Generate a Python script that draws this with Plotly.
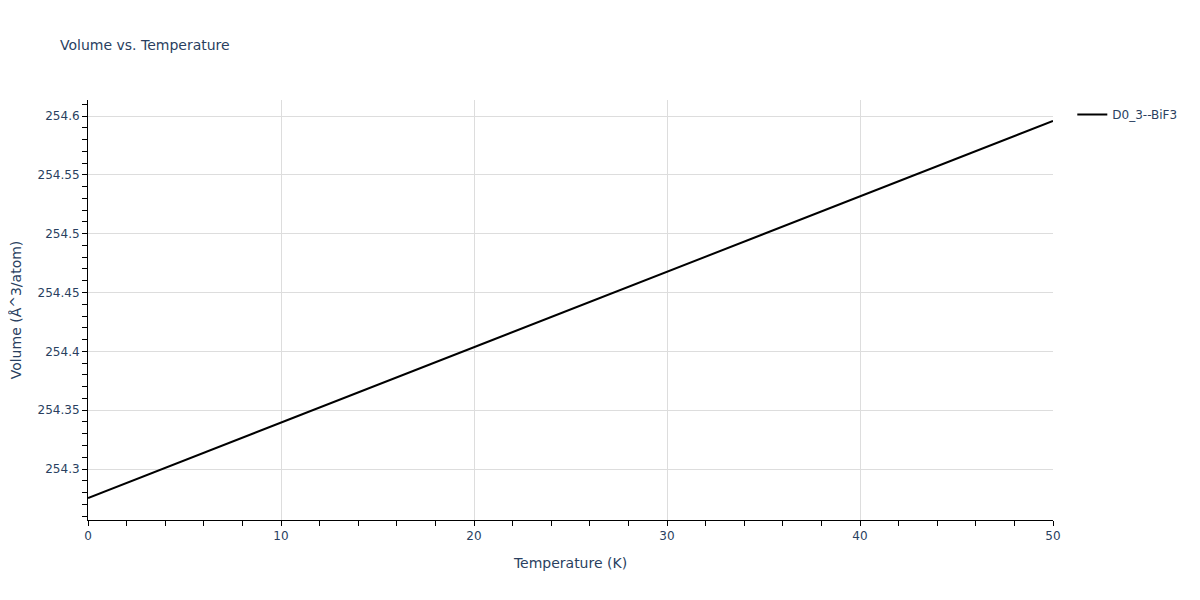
import plotly.graph_objects as go

# temperature (K) and volume (A^3/atom)
temperature = [0, 5, 10, 15, 20, 25, 30, 35, 40, 45, 50]
volume = [254.2754, 254.3074, 254.3395, 254.3715, 254.4036, 254.4356,
          254.4676, 254.4997, 254.5317, 254.5638, 254.5958]
series_name = "D0_3--BiF3"

fig = go.Figure()
fig.add_trace(go.Scatter(x=temperature, y=volume, mode="lines", name=series_name,
                         line=dict(color="black", width=2)))

axis_style = dict(showline=True, linecolor="black", linewidth=1, ticks="outside",
                  tickcolor="black", ticklen=5, gridcolor="#dddddd", zeroline=False,
                  showgrid=True, automargin=False)

# page body adds an 8px offset, so margins are pulled in by 8px to match
fig.update_layout(
    title=dict(text="Volume vs. Temperature", x=0.0433, y=0.946, font=dict(size=14)),
    width=1200, height=600,
    plot_bgcolor="white", paper_bgcolor="white",
    font=dict(family="Verdana, DejaVu Sans", color="#2a3f5f", size=12),
    margin=dict(l=80, r=155, t=92, b=88),
    showlegend=True,
    legend=dict(x=1.02, y=1, xanchor="left", yanchor="top"),
    xaxis=dict(title=dict(text="Temperature (K)"), range=[0, 50], dtick=10,
               minor=dict(ticks="outside", dtick=2, ticklen=5, tickcolor="black", showgrid=False),
               **axis_style),
    yaxis=dict(title=dict(text="Volume (Å^3/atom)"), range=[254.2567, 254.6136], dtick=0.05,
               minor=dict(ticks="outside", dtick=0.01, ticklen=5, tickcolor="black", showgrid=False),
               **axis_style),
)

fig.write_html("out.html")
